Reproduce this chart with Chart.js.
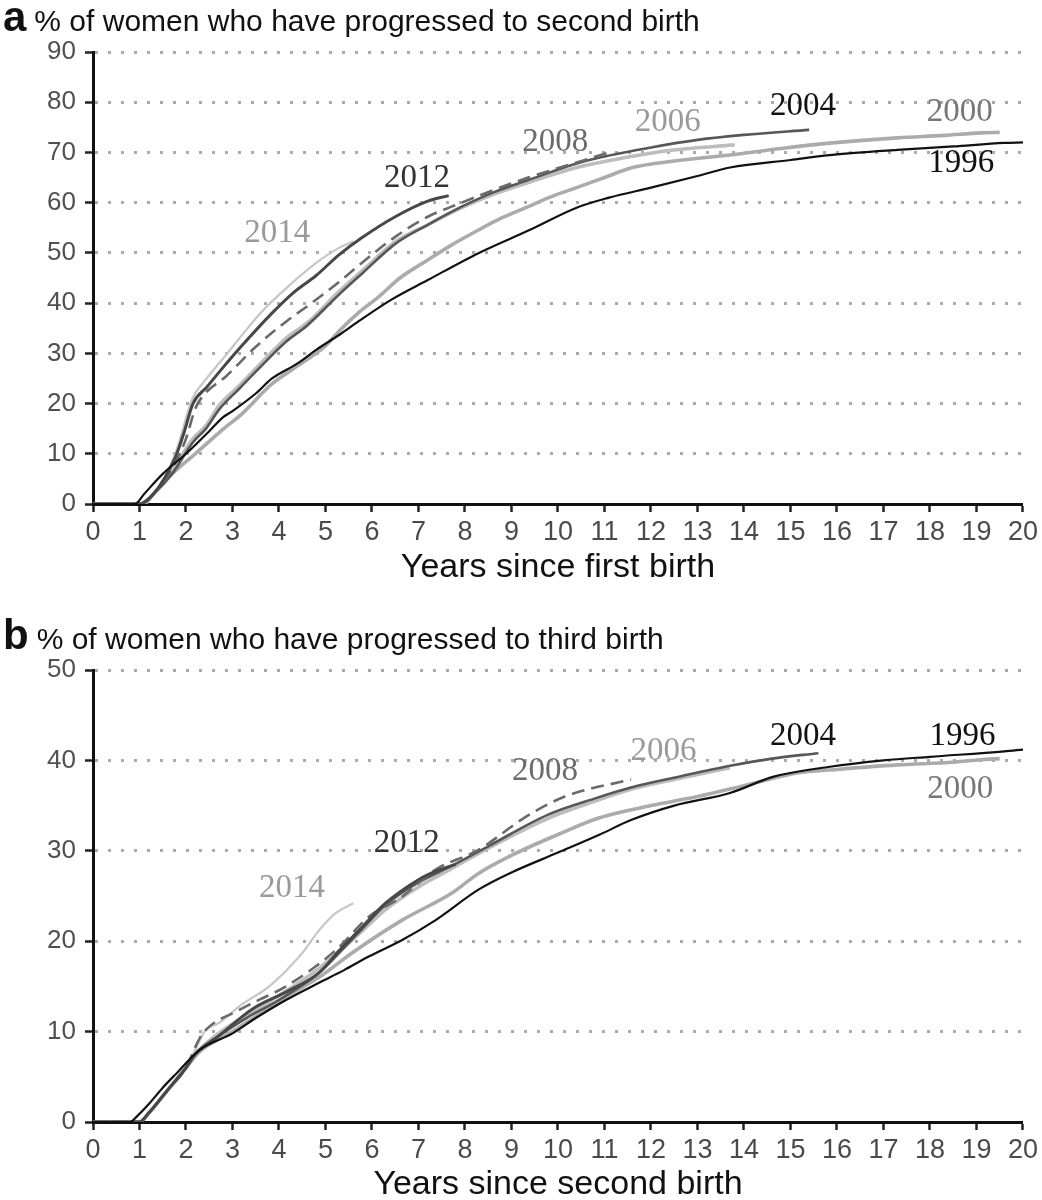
<!DOCTYPE html>
<html>
<head>
<meta charset="utf-8">
<script src="https://cdn.jsdelivr.net/npm/chart.js@4.4.0/dist/chart.umd.min.js"></script>
<style>
body { margin:0; background:#fff; width:1042px; height:1200px; overflow:hidden; position:relative; font-family:"Liberation Sans", Arial, sans-serif; }
canvas { position:absolute; left:0; }
#chartA { top:0; }
#chartB { top:600px; }
.ttl { position:absolute; left:3px; font-size:30px; color:#111; white-space:nowrap; line-height:40px; }
.ttl b { font-size:42px; margin-right:8px; }
</style>
</head>
<body>
<canvas id="chartA" width="1042" height="600"></canvas>
<canvas id="chartB" width="1042" height="620"></canvas>
<div class="ttl" style="top:-3px"><b>a</b>% of women who have progressed to second birth</div>
<div class="ttl" style="top:615px"><b>b</b>% of women who have progressed to third birth</div>
<script>
// cohorts
var years = ['1996', '2000', '2004', '2006', '2008', '2012', '2014'];
var xTicks = [0,1,2,3,4,5,6,7,8,9,10,11,12,13,14,15,16,17,18,19,20];

// panel a: second birth (years since first birth, %)
var a1996x = [0, 0.9, 1.1, 1.5, 2, 2.15, 2.5, 2.8, 3, 3.5, 3.85, 4.4, 4.8, 5.3, 5.7, 6.4, 7.2, 8.3, 9.4, 10.4, 11.1, 12, 13, 13.7, 15, 15.9, 17.3, 18.5, 19.6, 20];
var a1996y = [0, 0, 2, 6, 10, 11.3, 14.5, 17.3, 18.5, 22, 25, 28, 30.7, 33.7, 36.3, 40.6, 44.6, 50, 54.6, 59, 61, 63, 65.3, 67, 68.5, 69.5, 70.5, 71.2, 71.9, 72];
var a2000x = [0, 1.1, 1.3, 1.7, 2.2, 2.85, 3.15, 3.86, 4.4, 5, 5.3, 5.7, 6.15, 6.6, 7.2, 7.7, 8.3, 8.8, 9.36, 9.8, 10.4, 11, 11.6, 12.5, 13.7, 14.8, 15.9, 17.3, 18.3, 19.1, 19.5];
var a2000y = [0, 0, 2, 6, 10, 15.3, 17.5, 24, 27.5, 31.5, 34.5, 38, 41.3, 45, 48.6, 51.5, 54.6, 57, 59.2, 61, 63, 65, 67, 68.3, 69.5, 70.8, 71.9, 72.9, 73.4, 73.9, 74];
var a2004x = [0, 1.0, 1.3, 1.7, 2.15, 2.43, 2.71, 3.15, 3.57, 4.15, 4.6, 5.29, 5.8, 6.5, 7.2, 7.93, 8.6, 9.36, 10.4, 10.9, 12, 13, 14, 15.4];
var a2004y = [0, 0, 2, 6, 12.3, 15, 18.8, 23, 27, 32.3, 35.5, 41.7, 46, 51.8, 55.6, 59.2, 62, 64.5, 67.8, 69, 71, 72.5, 73.5, 74.5];
var a2006x = [0, 1.0, 1.3, 1.7, 2.15, 2.43, 2.71, 3.15, 3.57, 4.15, 4.6, 5.29, 5.8, 6.5, 7.2, 7.93, 8.6, 9.36, 10.4, 10.9, 12.3, 13.8];
var a2006y = [0, 0, 2, 6.5, 13, 15.6, 19.6, 23.6, 27.6, 33, 36, 42.3, 46.5, 52.2, 55.6, 59, 61.6, 64, 67, 68, 70.3, 71.5];
var a2008x = [0, 1.0, 1.3, 1.7, 2.0, 2.2, 2.36, 2.87, 3.5, 4.15, 4.7, 5.29, 5.78, 6.5, 7.2, 7.93, 8.64, 9.36, 10.4, 11.1];
var a2008y = [0, 0, 2, 7, 13, 19, 21.5, 25.5, 31.3, 36.3, 40, 44.2, 48, 53.2, 57.2, 60, 62.6, 65, 68, 70];
var a2012x = [0, 1.0, 1.3, 1.77, 1.95, 2.15, 2.45, 2.78, 3.2, 3.85, 4.3, 4.8, 5.29, 5.78, 6.5, 7.2, 7.65];
var a2012y = [0, 0, 2, 9.3, 14, 20, 23.3, 27, 31.5, 38, 42, 45.5, 49.6, 53, 57.2, 60.3, 61.4];
var a2014x = [0, 1.0, 1.3, 1.75, 2.14, 2.4, 2.8, 3.15, 3.6, 4.22, 4.8, 5.29, 5.6];
var a2014y = [0, 0, 2, 9.5, 21, 24.5, 29, 33, 38, 43.5, 48, 51, 52.3];

// panel b: third birth (years since second birth, %)
var b1996x = [0, 0.8, 0.94, 1.22, 1.5, 1.8, 2.3, 3.0, 3.5, 4.15, 4.86, 5.4, 5.93, 6.64, 7.36, 8.29, 9, 10, 10.9, 11.57, 12.5, 13.7, 14.64, 15.85, 17, 18, 19.6, 20];
var b1996y = [0, 0, 0.6, 2.1, 3.8, 5.4, 8, 9.8, 11.5, 13.5, 15.4, 16.8, 18.3, 20.1, 22.3, 25.7, 27.6, 29.8, 31.8, 33.4, 35, 36.4, 38.2, 39.3, 40, 40.4, 41, 41.2];
var b2000x = [0, 1.0, 1.2, 1.6, 2.0, 2.3, 3.0, 3.6, 4.2, 4.86, 5.57, 6.64, 7.71, 8.29, 9, 10, 10.86, 12, 13, 14, 15.14, 16, 17.3, 18.5, 19.14, 19.5];
var b2000y = [0, 0, 1, 3.5, 6, 7.8, 10, 12, 14, 16, 18.7, 22.3, 25.3, 27.5, 29.5, 31.8, 33.6, 35, 36, 37.2, 38.6, 39, 39.5, 39.8, 40.1, 40.2];
var b2004x = [0, 1.0, 1.2, 1.6, 2.0, 2.2, 2.7, 3.3, 4, 4.86, 5.72, 6.29, 7, 7.7, 8.5, 9.79, 10.8, 11.57, 12.6, 13.7, 14.6, 15.6];
var b2004y = [0, 0, 1, 3.5, 6, 7.5, 9.5, 11.5, 13.5, 16.5, 21, 24, 26.5, 28.3, 30.5, 34, 35.8, 37, 38.2, 39.4, 40.2, 40.8];
var b2006x = [0, 1.0, 1.2, 1.6, 2.0, 2.2, 2.7, 3.3, 4, 4.86, 5.72, 6.29, 7, 7.7, 8.5, 9.79, 10.8, 11.57, 12.6, 13.7];
var b2006y = [0, 0, 1, 3.5, 6, 7.5, 9.8, 11.8, 14, 17, 20.8, 23.5, 26, 28, 30.3, 33.6, 35.5, 36.8, 38, 39.2];
var b2008x = [0, 1.0, 1.2, 1.6, 2.0, 2.2, 2.36, 3.15, 3.57, 4.15, 5.22, 5.93, 6.64, 7.36, 8.29, 9.29, 10.15, 11.57];
var b2008y = [0, 0, 1, 3.5, 6, 8.3, 9.8, 12.4, 13.5, 15, 19, 22.7, 24.9, 27.9, 30.1, 33.7, 36, 37.9];
var b2012x = [0, 1.0, 1.2, 1.6, 2.0, 2.2, 2.7, 3.43, 4.2, 4.86, 5.3, 5.72, 6.29, 7.0, 7.4, 7.8];
var b2012y = [0, 0, 1, 3.5, 6, 7.5, 9.5, 12.5, 14.5, 16.5, 19, 21.2, 24.2, 26.8, 27.8, 28.5];
var b2014x = [0, 1.0, 1.2, 1.6, 2.0, 2.2, 2.4, 2.72, 3.2, 3.79, 4.5, 4.86, 5.22, 5.6];
var b2014y = [0, 0, 1, 3.5, 6, 8, 10, 11, 13, 15, 18.7, 21.2, 23.1, 24.2];

var panelA = {'1996': [a1996x, a1996y], '2000': [a2000x, a2000y], '2004': [a2004x, a2004y], '2006': [a2006x, a2006y],
              '2008': [a2008x, a2008y], '2012': [a2012x, a2012y], '2014': [a2014x, a2014y]};
var panelB = {'1996': [b1996x, b1996y], '2000': [b2000x, b2000y], '2004': [b2004x, b2004y], '2006': [b2006x, b2006y],
              '2008': [b2008x, b2008y], '2012': [b2012x, b2012y], '2014': [b2014x, b2014y]};

var lineStyle = {
  '1996': {color: '#111111', width: 2.2, dash: [], order: 0},
  '2000': {color: '#ababab', width: 3.6, dash: [], order: 6},
  '2004': {color: '#575757', width: 2.6, dash: [], order: 3},
  '2006': {color: '#bdbdbd', width: 3.6, dash: [], order: 5},
  '2008': {color: '#6a6a6a', width: 2.6, dash: [13, 7], order: 2},
  '2012': {color: '#474747', width: 3, dash: [], order: 1},
  '2014': {color: '#c6c6c6', width: 2.2, dash: [], order: 4}
};

function makeSets(panel) {
  return years.map(function (yr) {
    var xs = panel[yr][0], ys = panel[yr][1];
    var st = lineStyle[yr];
    return {
      label: yr,
      data: xs.map(function (v, i) { return {x: v, y: ys[i]}; }),
      borderColor: st.color,
      borderWidth: st.width,
      borderDash: st.dash,
      order: st.order,
      pointRadius: 0,
      fill: false,
      cubicInterpolationMode: 'monotone'
    };
  });
}

// year labels written next to the curves
var yearLabels = {
  id: 'yearLabels',
  afterDatasetsDraw: function (chart, args, opts) {
    var ctx = chart.ctx, xs = chart.scales.x, ys = chart.scales.y;
    ctx.save();
    ctx.font = '33px "Liberation Serif", "Times New Roman", serif';
    ctx.textAlign = 'center';
    ctx.textBaseline = 'middle';
    opts.items.forEach(function (it) {
      ctx.fillStyle = it.color;
      ctx.fillText(it.text, xs.getPixelForValue(it.x), ys.getPixelForValue(it.y));
    });
    ctx.restore();
  }
};

function makeChart(id, panel, yMax, xTitle, pad, xHeight, titlePad, items) {
  var ctx = document.getElementById(id).getContext('2d');
  return new Chart(ctx, {
    type: 'line',
    data: { datasets: makeSets(panel) },
    options: {
      responsive: false,
      animation: false,
      layout: { padding: pad },
      plugins: { legend: {display: false}, tooltip: {enabled: false}, yearLabels: {items: items} },
      scales: {
        x: {
          type: 'linear', min: 0, max: 20,
          afterBuildTicks: function (s) { s.ticks = xTicks.map(function (v) { return {value: v}; }); },
          afterFit: function (s) { s.height = xHeight; },
          grid: { drawOnChartArea: false, drawTicks: true, tickLength: 8, tickWidth: 2.5, tickColor: '#222' },
          border: { display: true, color: '#111', width: 3 },
          ticks: { autoSkip: false, maxRotation: 0, padding: 4, color: '#4a4a4a', font: {family: '"Liberation Sans", Arial', size: 27} },
          title: { display: true, text: xTitle, color: '#111', font: {family: '"Liberation Sans", Arial', size: 34}, padding: {top: 0, bottom: titlePad} }
        },
        y: {
          min: 0, max: yMax,
          afterFit: function (s) { s.width = 93; },
          ticks: { stepSize: 10, padding: 9, color: '#505050', font: {family: '"Liberation Sans", Arial', size: 26} },
          grid: { color: '#aaaaaa', lineWidth: 3, drawTicks: true, tickLength: 8, tickWidth: 2.5, tickColor: '#222', tickBorderDash: [] },
          border: { display: true, color: '#111', width: 3, dash: [3, 10] }
        }
      }
    },
    plugins: [yearLabels]
  });
}

makeChart('chartA', panelA, 90, 'Years since first birth', {top: 52, right: 15, left: 0, bottom: 0}, 96, 12, [
  {text: '2014', x: 3.96, y: 53.9, color: '#9a9a9a'},
  {text: '2012', x: 6.97, y: 64.8, color: '#333333'},
  {text: '2008', x: 9.94, y: 72.0, color: '#6b6b6b'},
  {text: '2006', x: 12.36, y: 76.0, color: '#9a9a9a'},
  {text: '2004', x: 15.27, y: 79.2, color: '#111111'},
  {text: '2000', x: 18.64, y: 78.0, color: '#777777'},
  {text: '1996', x: 18.67, y: 67.8, color: '#111111'}
]);

makeChart('chartB', panelB, 50, 'Years since second birth', {top: 70, right: 15, left: 0, bottom: 0}, 98, 15, [
  {text: '2014', x: 4.28, y: 25.8, color: '#9a9a9a'},
  {text: '2012', x: 6.75, y: 30.8, color: '#333333'},
  {text: '2008', x: 9.72, y: 38.8, color: '#6b6b6b'},
  {text: '2006', x: 12.27, y: 41.0, color: '#9a9a9a'},
  {text: '2004', x: 15.27, y: 42.7, color: '#111111'},
  {text: '1996', x: 18.7, y: 42.7, color: '#111111'},
  {text: '2000', x: 18.65, y: 36.8, color: '#777777'}
]);
</script>
</body>
</html>
